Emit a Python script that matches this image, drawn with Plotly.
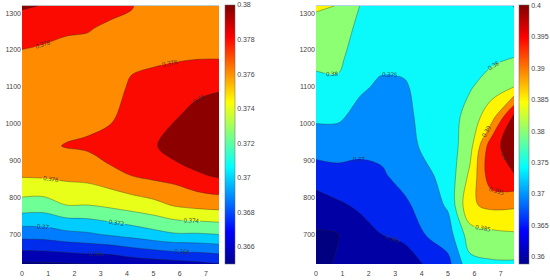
import plotly.graph_objects as go
from plotly.subplots import make_subplots

# grid
x_vals = [0, 0.83, 1.67, 2.5, 3.33, 4.17, 5.0, 5.83, 6.67, 7.5]
y_vals = [620, 700, 780, 860, 940, 1020, 1100, 1180, 1260, 1320]

# left map (rows follow y_vals)
z_left = [
    [0.3636, 0.3637, 0.3638, 0.3640, 0.36395, 0.3646, 0.3649, 0.3652, 0.3655, 0.3659],
    [0.3688, 0.3689, 0.3694, 0.3697, 0.3702, 0.3707, 0.3713, 0.3718, 0.3718, 0.3720],
    [0.37321, 0.3731, 0.3740, 0.3740, 0.3744, 0.3749, 0.3754, 0.3762, 0.3766, 0.3768],
    [0.3762, 0.3763, 0.3765, 0.3767, 0.3773, 0.37803, 0.3785, 0.3788, 0.3797, 0.3803],
    [0.3772, 0.3776, 0.3781, 0.3783, 0.3792, 0.3793, 0.3797, 0.3812, 0.3818, 0.3822],
    [0.3771, 0.3772, 0.3772, 0.3774, 0.3775, 0.3792, 0.3798, 0.3798, 0.3808, 0.3814],
    [0.3773, 0.3773, 0.3772, 0.3773, 0.3774, 0.3782, 0.3792, 0.3790, 0.3794, 0.3797],
    [0.37775, 0.3776, 0.3775, 0.3775, 0.3775, 0.3777, 0.3774, 0.3778, 0.3779, 0.3779],
    [0.3787, 0.3785, 0.3782, 0.3781, 0.3778, 0.3776, 0.3772, 0.3773, 0.3774, 0.3775],
    [0.3803, 0.3799, 0.3792, 0.3789, 0.3784, 0.3781, 0.3772, 0.3773, 0.3774, 0.3775],
]

# right map
z_right = [
    [0.3589, 0.3604, 0.3612, 0.3618, 0.3625, 0.3655, 0.3685, 0.3785, 0.3793, 0.3793],
    [0.3595, 0.3598, 0.3630, 0.3650, 0.3661, 0.3702, 0.3727, 0.3826, 0.3838, 0.3844],
    [0.3625, 0.3643, 0.3658, 0.3672, 0.3690, 0.3722, 0.3757, 0.3893, 0.3912, 0.3908],
    [0.3674, 0.3683, 0.3685, 0.3694, 0.3717, 0.3740, 0.3768, 0.3860, 0.3988, 0.3998],
    [0.3722, 0.3723, 0.3712, 0.3713, 0.3728, 0.3762, 0.3772, 0.3832, 0.3985, 0.4024],
    [0.3759, 0.3758, 0.3735, 0.3728, 0.3735, 0.3768, 0.3772, 0.3822, 0.3880, 0.4012],
    [0.3786, 0.3790, 0.3757, 0.3742, 0.3744, 0.3770, 0.3770, 0.3795, 0.3828, 0.3850],
    [0.3812, 0.3812, 0.3772, 0.3762, 0.3765, 0.3771, 0.3770, 0.3780, 0.3788, 0.3800],
    [0.3835, 0.3832, 0.3785, 0.3772, 0.3772, 0.3772, 0.3771, 0.3775, 0.3778, 0.3776],
    [0.3856, 0.3849, 0.3799, 0.3776, 0.3775, 0.3773, 0.3772, 0.3772, 0.3775, 0.3748],
]

left_ticks = [0.366, 0.368, 0.37, 0.372, 0.374, 0.376, 0.378, 0.38]
right_ticks = [0.36, 0.365, 0.37, 0.375, 0.38, 0.385, 0.39, 0.395, 0.4]

# band colours, lowest band first
left_bands = ['rgb(0,0,130)', 'rgb(0,0,178)', 'rgb(0,45,235)', 'rgb(0,125,255)',
              'rgb(0,205,255)', 'rgb(110,255,150)', 'rgb(232,255,25)',
              'rgb(255,140,0)', 'rgb(250,10,0)', 'rgb(140,0,0)']
right_bands = ['rgb(0,0,128)', 'rgb(0,0,165)', 'rgb(0,35,240)', 'rgb(0,140,255)',
               'rgb(10,250,252)', 'rgb(140,255,115)', 'rgb(255,245,0)',
               'rgb(255,135,0)', 'rgb(250,10,0)', 'rgb(140,0,0)']

jet = [[0, 'rgb(0,0,143)'], [0.125, 'rgb(0,0,255)'], [0.375, 'rgb(0,255,255)'],
       [0.625, 'rgb(255,255,0)'], [0.875, 'rgb(255,0,0)'], [1, 'rgb(128,0,0)']]


def bands_scale(cols):
    n = len(cols) - 1
    return [[i / n, c] for i, c in enumerate(cols)]


font = dict(family='Liberation Sans, Arial', size=7, color='#444')

fig = make_subplots(rows=1, cols=2)

fig.add_trace(go.Contour(
    x=x_vals, y=y_vals, z=z_left,
    colorscale=bands_scale(left_bands), showscale=False,
    contours=dict(start=0.364, end=0.38, size=0.002, coloring='fill',
                  showlabels=True, labelformat='.3~f',
                  labelfont=dict(size=6, color='#333')),
    line=dict(width=0.5, color='rgba(40,40,40,0.7)'),
), row=1, col=1)

fig.add_trace(go.Contour(
    x=x_vals, y=y_vals, z=z_right,
    colorscale=bands_scale(right_bands), showscale=False,
    contours=dict(start=0.36, end=0.4, size=0.005, coloring='fill',
                  showlabels=True, labelformat='.3~f',
                  labelfont=dict(size=6, color='#333')),
    line=dict(width=0.5, color='rgba(40,40,40,0.7)'),
), row=1, col=2)

# continuous colour bars
for col, lo, hi, ticks, cx in [(1, 0.365, 0.38, left_ticks, 225 / 550),
                               (2, 0.3588, 0.4001, right_ticks, 519 / 550)]:
    fig.add_trace(go.Scatter(
        x=[None], y=[None], mode='markers', showlegend=False,
        marker=dict(color=[lo], cmin=lo, cmax=hi, colorscale=jet, showscale=True,
                    colorbar=dict(x=cx, xanchor='left', xpad=0, ypad=0,
                                  y=0.5, yanchor='middle', len=1,
                                  thickness=10, outlinewidth=0.5, outlinecolor='#666',
                                  tickvals=ticks, ticktext=[f'{t:g}' for t in ticks],
                                  ticks='', tickfont=font)),
    ), row=1, col=col)

fig.update_xaxes(range=[0, 7.5], tickvals=list(range(8)), ticks='', showgrid=False,
                 zeroline=False, showline=False, tickfont=font, ticklabelstandoff=4)
fig.update_yaxes(range=[620, 1322], tickvals=[700, 800, 900, 1000, 1100, 1200, 1300],
                 ticks='', showgrid=False, zeroline=False, showline=False, tickfont=font)
fig.update_xaxes(domain=[22 / 550, 219 / 550], row=1, col=1)
fig.update_xaxes(domain=[316 / 550, 514 / 550], row=1, col=2)

fig.update_layout(
    width=550, height=280,
    margin=dict(l=0, r=0, t=5, b=16, autoexpand=False),
    paper_bgcolor='white', plot_bgcolor='white',
    showlegend=False,
)

# drop the page's default body margin so the figure sits at the window corner
fig.write_html("out.html", config={'displayModeBar': False},
               post_script="document.body.style.margin='0';")
